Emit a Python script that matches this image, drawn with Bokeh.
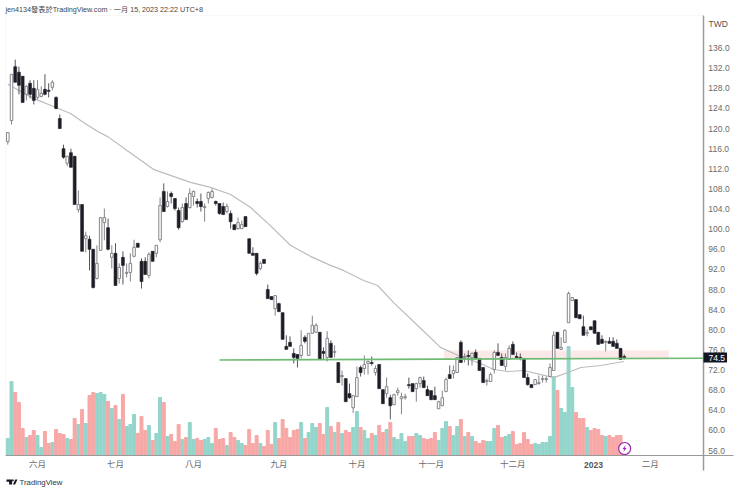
from bokeh.embed import file_html
from bokeh.models import (ColumnDataSource, FixedTicker, Label, NumeralTickFormatter,
                          PolyAnnotation, Range1d)
from bokeh.plotting import figure
from bokeh.resources import INLINE

# daily candles
opens = [117.4,121.6,132.3,131.2,130.4,126.8,129.0,128.0,126.2,126.4,
         127.8,127.6,128.2,126.2,122.0,116.0,113.1,115.2,114.5,103.9,
         104.9,98.1,98.0,96.0,90.2,95.8,101.3,100.3,94.4,95.2,
         90.2,94.4,91.2,91.4,94.6,97.2,93.6,93.6,90.8,95.6,
         95.2,97.9,107.5,104.5,107.1,106.1,103.7,101.5,105.1,104.3,
         106.5,105.5,105.5,104.3,106.1,106.3,105.5,105.1,104.5,103.5,
         103.1,100.9,100.1,100.1,102.5,98.1,95.2,95.2,92.2,94.0,
         88.0,86.6,84.2,85.2,83.4,76.7,77.5,75.3,75.1,74.9,
         78.5,74.9,79.3,79.5,79.5,75.7,74.5,77.3,75.5,73.5,
         70.7,70.3,67.3,64.5,66.7,72.5,72.3,73.3,73.5,71.5,
         73.1,68.1,67.3,66.5,65.1,67.5,66.3,66.5,69.1,69.3,
         68.3,69.3,69.9,68.1,67.9,66.9,64.3,64.9,67.7,71.1,
         71.3,71.5,77.5,74.5,74.9,74.5,75.5,74.3,72.5,69.7,
         69.7,72.1,75.5,74.5,72.7,74.1,77.1,74.7,74.5,74.3,
         70.5,69.1,69.1,69.3,70.1,70.1,70.7,71.9,79.5,76.1,
         77.5,81.4,85.8,86.0,83.0,80.6,79.3,80.6,81.8,79.5,
         78.1,77.5,77.7,77.7,77.3,76.3,74.7]
closes = [119.2,130.8,129.2,128.6,125.2,128.4,126.8,125.6,127.8,127.0,
          126.8,127.4,129.2,124.0,120.0,114.3,114.5,112.3,104.9,104.9,
          95.6,98.7,96.0,88.4,93.2,102.3,102.3,96.0,95.2,88.8,
          92.4,92.8,91.4,93.2,96.4,96.4,89.6,91.0,95.0,93.6,
          96.8,104.7,103.5,105.5,106.5,104.1,100.3,104.3,101.9,107.1,
          107.5,105.1,104.5,104.5,107.3,107.5,105.1,103.1,102.9,104.5,
          101.5,99.9,101.3,100.9,100.5,95.2,94.8,91.2,93.2,93.2,
          86.2,86.0,86.8,83.6,78.1,76.1,76.7,74.5,74.3,76.9,
          77.7,79.3,80.9,80.9,74.1,75.3,78.3,74.5,75.7,69.5,
          70.9,65.7,66.5,66.9,70.5,71.5,73.1,73.7,73.3,72.3,
          68.3,65.3,68.7,64.9,67.1,67.9,66.7,66.7,68.9,67.7,
          69.3,70.5,68.5,66.9,66.1,66.1,65.7,66.5,70.1,70.3,
          71.9,74.5,73.5,74.7,74.7,75.3,74.3,71.9,69.5,69.9,
          71.1,75.5,74.9,72.9,74.5,76.3,75.1,74.5,74.3,70.5,
          69.1,68.5,70.1,69.5,70.3,70.3,72.5,78.9,76.3,76.5,
          79.9,87.2,86.4,82.4,82.2,78.9,79.5,80.0,79.3,77.1,
          77.3,77.7,77.3,76.7,76.3,74.1,74.5]
highs = [119.2,130.8,133.7,132.3,130.4,128.6,129.6,129.6,129.6,128.4,
         130.8,129.0,129.6,126.4,122.8,116.8,114.5,116.0,114.5,107.7,
         104.9,99.5,98.7,96.0,96.8,102.3,104.1,102.1,96.8,97.2,
         93.2,95.6,93.2,95.2,97.9,97.2,94.2,94.4,95.4,95.6,
         96.8,106.3,109.1,107.5,107.5,106.1,104.3,105.1,106.3,108.1,
         107.7,106.1,107.1,105.1,107.5,108.1,105.7,105.1,105.3,105.1,
         103.7,100.9,102.3,101.7,102.5,98.1,96.4,95.2,93.6,94.0,
         89.0,86.6,86.8,85.4,83.4,78.9,78.7,76.3,75.1,79.9,
         78.9,79.3,82.8,81.3,79.5,76.5,79.7,77.9,76.9,73.5,
         71.9,70.3,69.3,66.9,72.7,72.9,74.9,73.9,74.7,72.9,
         73.1,68.1,70.5,67.1,67.3,68.5,67.5,67.3,70.5,69.3,
         69.5,70.7,70.7,68.9,67.9,68.7,65.9,67.9,70.5,72.9,
         72.9,74.5,77.9,75.3,75.9,75.5,76.1,74.3,72.5,70.3,
         71.5,75.9,77.3,75.3,75.3,76.9,77.7,75.5,75.3,74.3,
         71.3,69.1,70.1,70.9,70.9,70.7,73.3,79.7,79.5,78.5,
         80.1,87.6,86.4,86.0,83.0,82.8,80.1,80.6,81.8,79.5,
         78.9,77.9,78.5,78.5,78.1,76.3,75.1]
lows = [116.8,120.8,129.2,126.8,125.2,125.6,126.0,124.8,125.8,126.2,
        126.6,126.2,127.6,123.8,120.0,114.0,112.5,112.3,104.9,103.3,
        95.6,95.4,91.8,88.2,90.0,95.8,97.8,95.8,92.2,88.8,
        89.2,89.0,90.4,89.6,94.4,96.4,88.2,91.0,90.2,93.6,
        94.4,97.4,103.5,104.3,105.1,103.7,99.9,101.3,101.9,104.1,
        104.7,104.3,103.5,101.5,105.1,106.1,104.7,102.9,102.9,103.1,
        100.1,99.9,99.9,100.1,100.5,95.2,94.8,90.8,91.8,93.2,
        86.2,86.0,82.8,83.6,78.1,76.1,76.7,73.3,72.5,74.3,
        77.3,74.9,79.3,79.5,74.1,74.1,73.7,74.5,74.5,69.5,
        68.9,65.7,66.3,63.5,66.7,70.7,71.1,71.1,72.9,70.9,
        68.3,65.3,66.5,62.2,65.1,66.9,63.2,66.1,68.3,67.7,
        65.7,68.5,68.5,66.9,66.1,66.1,64.3,64.9,67.7,70.3,
        70.3,71.5,73.5,73.5,72.9,72.9,74.3,71.9,69.5,68.9,
        69.7,71.3,74.9,72.9,71.9,74.1,75.1,74.3,73.9,70.5,
        68.9,68.5,69.1,69.1,69.5,69.5,70.7,71.9,76.3,76.1,
        77.5,81.4,85.8,82.4,82.2,78.9,78.7,80.0,79.3,77.1,
        77.3,75.7,77.3,76.7,76.3,74.1,74.1]
volumes = [17,74,63,53,27,18,20,25,20,8,
           24,12,13,26,22,21,17,16,37,31,
           46,32,60,63,62,63,61,54,47,50,
           36,61,29,31,41,22,39,25,30,15,
           22,58,53,19,21,14,31,16,18,33,
           16,17,15,16,18,12,27,16,17,10,
           23,18,15,12,10,26,12,20,12,9,
           25,11,33,17,36,27,18,25,26,33,
           17,23,32,28,32,21,48,29,23,33,
           22,25,23,28,44,28,25,17,22,20,
           30,23,26,33,18,16,22,14,19,19,
           22,20,17,16,17,23,15,27,34,29,
           20,29,36,19,23,19,14,12,15,14,
           14,27,30,18,19,21,24,11,12,23,
           16,11,12,11,13,13,19,79,65,47,
           43,109,68,43,37,37,28,25,27,26,
           20,19,20,18,20,20,5]

# moving average, read at a few places along the curve
ma_x = [0,6.9,12.3,16.9,20.4,24.2,26.9,32.2,39.2,43.8,49.2,54.6,60,65.4,70.7,76.1,81.5,
        86.9,90.4,95.8,99.6,103.9,110.3,116.5,121.9,127.3,130.8,134.6,138.9,147,150.8,
        154.3,159.7,165.9]
ma_y = [128.8,126.0,124.4,123.0,121.2,119.4,118.4,115.6,111.9,110.7,109.3,108.3,106.9,
        104.3,100.7,96.8,94.6,92.8,91.8,89.8,88.8,85.4,80.9,76.5,74.7,73.3,72.1,71.7,
        71.9,70.5,71.5,72.5,72.9,73.7]

# drawn on the chart by the author
trend_x = [57, 187.3]
trend_y = [74.0, 74.35]
zone_x = [117.5, 178]
zone_y = [74.3, 75.9]
event_x = [166.1]
event_y = [56.4]
last_price = 74.5

month_ticks = [8, 29, 50, 73, 94, 114, 136, 173]
month_labels = ["六月", "七月", "八月", "九月", "十月", "十一月", "十二月", "二月"]
year_tick = 157.7
year_label = "2023"
price_ticks = list(range(56, 140, 4))

TITLE = "jen4134發表於TradingView.com · 一月 15, 2023 22:22 UTC+8"
FONT = "'Liberation Sans', 'Noto Sans CJK TC', sans-serif"
UP_VOL, DOWN_VOL = "#93d5cb", "#f7a8a6"
AXIS = "#9a9a9a"
TEXT = "#6a6a6a"
H = 491

idx = list(range(len(opens)))
up = [i for i in idx if closes[i] >= opens[i]]
down = [i for i in idx if closes[i] < opens[i]]


def candles(ids):
    return ColumnDataSource(dict(
        x=ids,
        top=[max(opens[i], closes[i]) for i in ids],
        bottom=[min(opens[i], closes[i]) for i in ids],
        high=[highs[i] for i in ids],
        low=[lows[i] for i in ids],
    ))


# the plot area fills the whole page, the axes sit inside it at fixed spots,
# since labels outside the plot area get clipped
p = figure(width=740, height=H,
           x_range=Range1d(-1.966, 197.3), y_range=Range1d(47.85, 145.46),
           y_axis_location="right", output_backend="svg", toolbar_location=None,
           min_border=0, background_fill_color="white", border_fill_color="white",
           outline_line_color=None)
p.grid.visible = False
p.extra_y_ranges = {"vol": Range1d(-36, 455)}

# axes
xa = p.xaxis[0]
xa.fixed_location = 55.0
xa.bounds = (-0.62, 195.5)
xa.ticker = FixedTicker(ticks=month_ticks)
xa.major_label_overrides = dict(zip(month_ticks, month_labels))
xa.major_label_text_font = FONT
xa.major_label_text_font_size = "8.5px"
xa.major_label_text_color = TEXT
xa.major_label_standoff = 3
xa.major_tick_out = 0
xa.major_tick_line_color = None
xa.minor_tick_line_color = None
xa.axis_line_color = AXIS
xa.axis_line_width = 1

ya = p.yaxis[0]
ya.fixed_location = 187.3
ya.bounds = (52.0, 142.48)
ya.ticker = FixedTicker(ticks=price_ticks)
ya.formatter = NumeralTickFormatter(format="0.0")
ya.major_label_text_font = FONT
ya.major_label_text_font_size = "8.5px"
ya.major_label_text_color = TEXT
ya.major_label_standoff = 5
ya.major_tick_out = 0
ya.major_tick_line_color = None
ya.minor_tick_line_color = None
ya.axis_line_color = AXIS
ya.axis_line_width = 1.5

# zone, volume, average
p.quad(left=[zone_x[0]], right=[zone_x[1]], bottom=[zone_y[0]], top=[zone_y[1]],
       fill_color="#fde8e8", line_color=None)
p.vbar(x=up, top=[volumes[i] for i in up], bottom=0, width=0.8,
       color=UP_VOL, y_range_name="vol")
p.vbar(x=down, top=[volumes[i] for i in down], bottom=0, width=0.8,
       color=DOWN_VOL, y_range_name="vol")
p.line(ma_x, ma_y, line_color="#bcbcbc", line_width=1.2)

# candles
up_src = candles(up)
p.segment("x", "high", "x", "low", source=up_src, line_color="#85858a", line_width=1)
p.vbar("x", 0.68, "top", "bottom", source=up_src, fill_color="white", line_color="#85858a", line_width=1)
down_src = candles(down)
p.segment("x", "high", "x", "low", source=down_src, line_color="#55555c", line_width=1)
p.vbar("x", 0.78, "top", "bottom", source=down_src, fill_color="#1d1d26", line_color="#1d1d26", line_width=0.6)

p.line(trend_x, trend_y, line_color="#6fbb73", line_width=1.6)

# event flag over the last volume bar
p.scatter(event_x, event_y, marker="circle", size=12, fill_color="white",
          line_color="#9c27b0", line_width=1.2)


# decoration given in pixels of the page
def shape(xs, ys, fill):
    p.add_layout(PolyAnnotation(xs=xs, ys=[H - a for a in ys], xs_units="screen", ys_units="screen",
                                fill_color=fill, fill_alpha=1, line_color=None))


def text(x, y, s, size="8.5px", color=TEXT, **kw):
    p.add_layout(Label(x=x, y=H - y, x_units=kw.pop("x_units", "screen"), y_units="screen", text=s,
                       text_font=FONT, text_font_size=size, text_color=color,
                       text_baseline="middle", **kw))


# faint border of the chart pane
shape([5, 5, 5.5, 5.5], [15, 455, 455, 15], "#f1f1f1")
shape([5, 702, 702, 5], [15, 15, 15.5, 15.5], "#f1f1f1")
shape([625.2, 621.9, 623.8, 622.8, 626.2, 624.2], [444.6, 448.8, 448.8, 451.6, 447.4, 447.4], "#9c27b0")
# logo
shape([6, 11.6, 11.6, 8.6, 8.6, 6], [479, 479, 484, 484, 481.2, 481.2], "#131722")
shape([11.6, 13.2, 13.2, 11.6], [479, 479, 480.8, 480.8], "#131722")
shape([14.8, 17, 14.6, 12.4], [479, 479, 484, 484], "#131722")

text(5, 9, TITLE, size="7.2px", color="#444444")
text(708, 23, "TWD", color="#555555")
text(year_tick, 464, year_label, color="#555555", x_units="data", text_font_style="bold", text_align="center")
text(19, 481.5, "TradingView", size="7.8px", color="#333333")
# the box starts at x, the padding pushes the text in
text(703, 357, str(last_price), color="white", background_fill_color="#131722", padding=(5, 2, 2, 2))

open("out.html", "w").write(file_html(p, INLINE))
